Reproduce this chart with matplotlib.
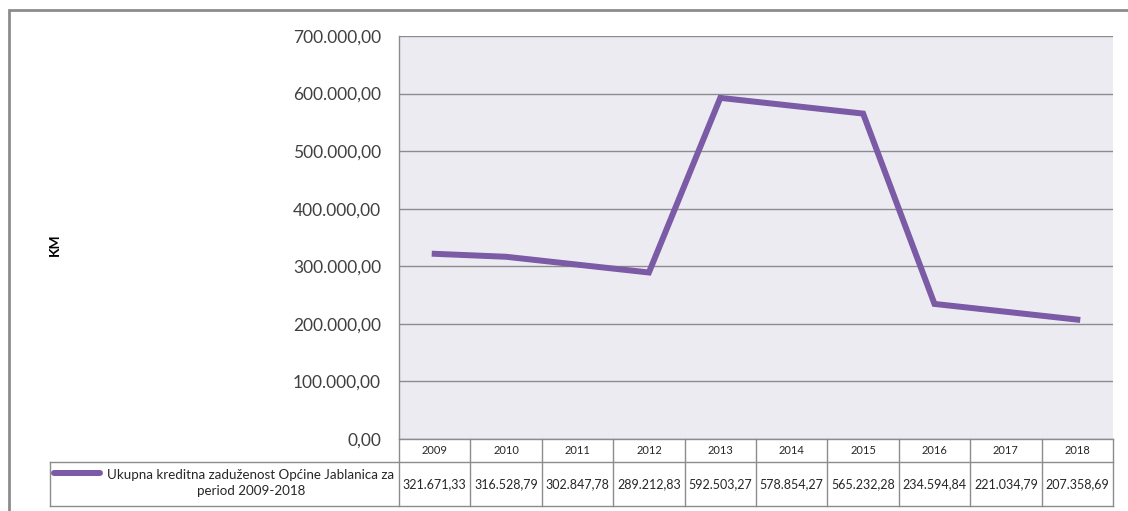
import matplotlib
matplotlib.use("Agg")
import matplotlib.pyplot as plt
from matplotlib.lines import Line2D
from matplotlib.patches import Rectangle

years = ["2009", "2010", "2011", "2012", "2013", "2014", "2015", "2016", "2017", "2018"]
values = [321671.33, 316528.79, 302847.78, 289212.83, 592503.27,
          578854.27, 565232.28, 234594.84, 221034.79, 207358.69]
value_labels = ["321.671,33", "316.528,79", "302.847,78", "289.212,83", "592.503,27",
                "578.854,27", "565.232,28", "234.594,84", "221.034,79", "207.358,69"]
series_name = "Ukupna kreditna zaduženost Općine Jablanica za\nperiod 2009-2018"
y_ticks = [0, 100000, 200000, 300000, 400000, 500000, 600000, 700000]

W, H = 1128, 511
plt.rcParams['font.family'] = ['Lato', 'DejaVu Sans']


def fx(x):
    return x / W


def fy(y):
    return 1 - y / H


def fmt(v):
    s = f"{v:,.2f}"
    return s.replace(",", "X").replace(".", ",").replace("X", ".")


fig = plt.figure(figsize=(W / 100, H / 100), dpi=100)

# outer chart frame
fig.patches.append(Rectangle((fx(9), fy(520)), fx(1140 - 9), fy(10) - fy(520),
                             transform=fig.transFigure, fill=False,
                             edgecolor="#8c8c8c", linewidth=2))

left, right, top, bottom = 399, 1113, 36, 439
ax = fig.add_axes([fx(left), fy(bottom), fx(right - left), fy(top) - fy(bottom)])
ax.set_facecolor("#edebf2")
x = list(range(len(years)))
ax.plot(x, values, color="#7b5aa6", linewidth=4.3, solid_joinstyle="miter")
ax.set_xlim(-0.5, len(years) - 0.5)
ax.set_ylim(0, 700000)
ax.set_yticks(y_ticks)
ax.set_yticklabels([fmt(v) for v in y_ticks], fontsize=12.5, color="#404040")
ax.yaxis.grid(True, color="#8c8c8c", linewidth=1)
ax.set_axisbelow(True)
ax.tick_params(axis="y", length=0, pad=13)
ax.set_xticks([])
for s in ["top", "right", "bottom"]:
    ax.spines[s].set_visible(False)
ax.spines["left"].set_color("#8c8c8c")
ax.spines["left"].set_linewidth(1)

fig.text(fx(55), fy(245), "KM", rotation=90, ha="center", va="center",
         fontsize=10, fontweight="bold", color="#000000")

# data table
row1_top, row1_bot, row2_bot = 439, 462, 506
tab_left = 50
col_w = (right - left) / len(years)
lc = "#8c8c8c"


def hline(y, x0, x1):
    fig.add_artist(Line2D([fx(x0), fx(x1)], [fy(y), fy(y)], color=lc, linewidth=1,
                          transform=fig.transFigure))


def vline(x0, y0, y1):
    fig.add_artist(Line2D([fx(x0), fx(x0)], [fy(y0), fy(y1)], color=lc, linewidth=1,
                          transform=fig.transFigure))


hline(row1_top, left, right)
hline(row1_bot, tab_left, right)
hline(row2_bot, tab_left, right)
vline(tab_left, row1_bot, row2_bot)
for i in range(len(years) + 1):
    vline(left + i * col_w, row1_top, row2_bot)

for i, (yr, lab) in enumerate(zip(years, value_labels)):
    cx = left + (i + 0.5) * col_w
    fig.text(fx(cx), fy((row1_top + row1_bot) / 2), yr, ha="center", va="center",
             fontsize=8, color="#262626")
    fig.text(fx(cx), fy((row1_bot + row2_bot) / 2), lab, ha="center", va="center",
             fontsize=9, color="#262626")

fig.add_artist(Line2D([fx(54), fx(100)], [fy(473), fy(473)], color="#7b5aa6",
                      linewidth=4.3, solid_capstyle="round", transform=fig.transFigure))
fig.text(fx(251), fy(483), series_name, ha="center", va="center",
         fontsize=9.6, color="#262626", linespacing=1.45)

fig.savefig("out.png", dpi=100)
